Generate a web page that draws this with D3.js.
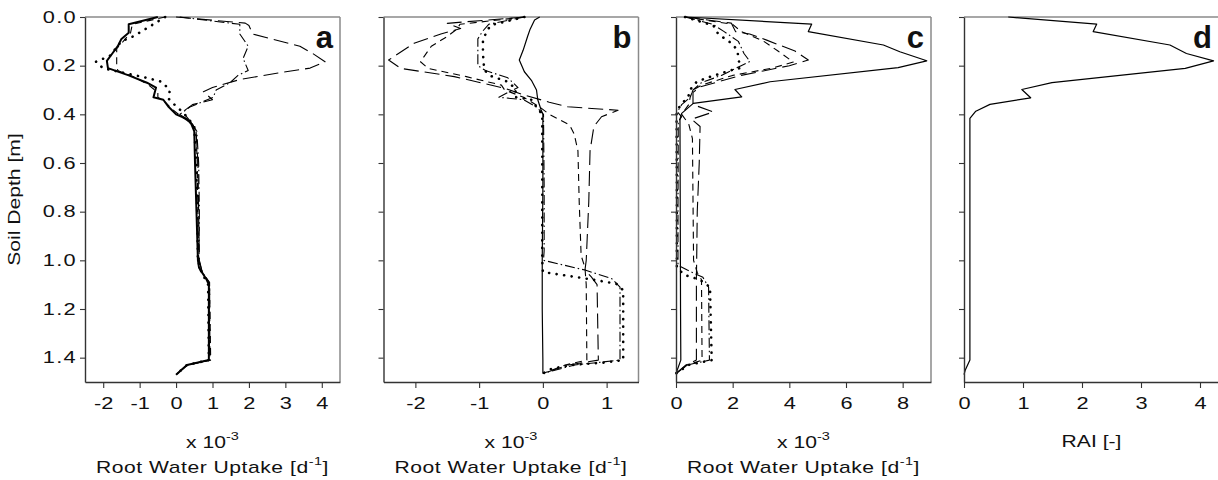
<!DOCTYPE html>
<html><head><meta charset="utf-8">
<script src="https://cdn.jsdelivr.net/npm/d3@7"></script>
<style>
body{margin:0;background:#fff;}
text{font-family:"Liberation Sans",Arial,sans-serif;fill:#111;}
</style></head>
<body><svg id="c" width="1218" height="480"></svg>
<script>
// ---------- data: [depth (m), value] ----------
const depthTicks = [0,0.2,0.4,0.6,0.8,1.0,1.2,1.4];
const xTicksA = [-2,-1,0,1,2,3,4];
const xTicksB = [-2,-1,0,1];
const xTicksC = [0,2,4,6,8];
const xTicksD = [0,1,2,3,4];
const panelLetters = ["a","b","c","d"];

const aSolid = [[0,-0.5],[0.03,-1.3],[0.065,-1.3],[0.09,-1.5],[0.12,-1.6],[0.15,-1.75],[0.18,-1.9],[0.21,-1.87],[0.24,-1.3],[0.27,-0.8],[0.29,-0.55],[0.33,-0.62],[0.34,-0.35],[0.37,-0.2],[0.40,0.0],[0.42,0.3],[0.44,0.42],[0.47,0.5],[0.6,0.52],[0.75,0.55],[0.9,0.58],[1.0,0.6],[1.03,0.63],[1.08,0.84],[1.1,0.9],[1.25,0.9],[1.41,0.9],[1.43,0.3],[1.47,0.0]];
const aDash = [[0,-0.3],[0.03,-1.2],[0.065,-1.25],[0.1,-1.45],[0.13,-1.63],[0.2,-1.63],[0.22,-1.6],[0.25,-1.1],[0.28,-0.75],[0.31,-0.5],[0.33,-0.5],[0.35,-0.3],[0.38,-0.1],[0.41,0.15],[0.44,0.45],[0.47,0.55],[0.6,0.58],[0.8,0.6],[1.0,0.62],[1.04,0.66],[1.08,0.86],[1.1,0.92],[1.41,0.95],[1.43,0.3],[1.47,0.0]];
const aDotted = [[0,-0.3],[0.047,-0.81],[0.08,-1.18],[0.1,-1.5],[0.16,-1.82],[0.184,-2.2],[0.211,-2.0],[0.226,-1.54],[0.25,-0.81],[0.266,-0.4],[0.30,-0.17],[0.335,-0.21],[0.37,0.02],[0.39,0.18],[0.42,0.35],[0.45,0.5],[0.6,0.55],[0.8,0.58],[1.0,0.6],[1.05,0.7],[1.1,0.88],[1.41,0.9],[1.43,0.3],[1.47,0]];
const aLongDash = [[0,0.0],[0.025,1.9],[0.035,2.0],[0.07,2.1],[0.12,3.4],[0.15,3.75],[0.184,4.09],[0.21,3.68],[0.23,2.8],[0.257,1.75],[0.29,1.0],[0.307,0.75],[0.34,1.0],[0.36,0.45],[0.39,0.18],[0.43,0.4],[0.47,0.55],[0.6,0.6],[0.8,0.62],[1.0,0.64],[1.05,0.72],[1.09,0.9],[1.41,0.92],[1.43,0.3],[1.47,0]];
const aDashDot = [[0,0.1],[0.03,1.75],[0.07,1.75],[0.12,1.98],[0.17,1.84],[0.22,1.98],[0.24,1.7],[0.27,1.48],[0.30,1.1],[0.33,1.02],[0.37,0.38],[0.4,0.1],[0.43,0.4],[0.47,0.57],[0.6,0.62],[0.8,0.64],[1.0,0.63],[1.05,0.72],[1.09,0.92],[1.41,0.93],[1.43,0.3],[1.47,0]];

const bSolid = [[0,-0.05],[0.012,-0.13],[0.05,-0.2],[0.08,-0.24],[0.137,-0.31],[0.177,-0.37],[0.225,-0.29],[0.26,-0.18],[0.30,-0.1],[0.34,-0.08],[0.38,-0.03],[0.40,0],[0.7,0.0],[1.0,-0.01],[1.2,-0.01],[1.41,0.0],[1.465,0.0]];
const bDotted = [[0,-0.29],[0.033,-0.81],[0.053,-0.87],[0.095,-0.94],[0.15,-0.94],[0.218,-0.92],[0.243,-0.81],[0.266,-0.55],[0.297,-0.42],[0.328,-0.45],[0.34,-0.18],[0.37,-0.1],[0.40,-0.01],[0.7,-0.01],[1.0,-0.01],[1.048,0.0],[1.06,0.3],[1.08,0.8],[1.096,1.15],[1.123,1.26],[1.41,1.26],[1.42,0.97],[1.43,0.45],[1.445,0.14],[1.465,0]];
const bDashDot = [[0,-0.29],[0.03,-0.85],[0.06,-0.95],[0.09,-1.02],[0.2,-1.02],[0.22,-0.9],[0.25,-0.55],[0.29,-0.39],[0.31,-0.55],[0.33,-0.69],[0.34,-0.3],[0.37,-0.1],[0.40,0.01],[0.7,0.02],[0.96,0.02],[1.0,0.01],[1.04,0.66],[1.075,1.08],[1.11,1.21],[1.41,1.21],[1.43,0.5],[1.465,0]];
const bLongDash = [[0,-0.29],[0.026,-1.5],[0.047,-1.29],[0.07,-1.6],[0.108,-2.02],[0.177,-2.42],[0.211,-2.23],[0.245,-1.39],[0.293,-0.6],[0.32,-0.3],[0.35,0.1],[0.369,0.39],[0.383,1.18],[0.41,0.92],[0.45,0.8],[0.55,0.74],[0.76,0.72],[1.0,0.68],[1.04,0.66],[1.068,0.76],[1.1,0.85],[1.41,0.87],[1.43,0.4],[1.465,0]];
const bDash = [[0,-0.29],[0.03,-1.3],[0.05,-1.35],[0.08,-1.5],[0.12,-1.75],[0.184,-1.92],[0.211,-1.8],[0.245,-1.2],[0.28,-0.65],[0.30,-0.6],[0.33,-0.3],[0.37,-0.05],[0.40,0.1],[0.444,0.42],[0.48,0.49],[0.55,0.55],[0.76,0.57],[0.98,0.6],[1.03,0.66],[1.1,0.68],[1.41,0.69],[1.43,0.35],[1.465,0]];

const cSolid = [[0,0.32],[0.029,4.79],[0.06,4.67],[0.115,7.32],[0.143,7.9],[0.18,8.85],[0.208,7.84],[0.266,3.32],[0.298,2.08],[0.328,2.32],[0.355,0.61],[0.396,0.2],[0.42,0.14],[0.8,0.15],[1.2,0.16],[1.41,0.17],[1.465,0]];
const cDotted = [[0,0.32],[0.035,1.32],[0.07,1.49],[0.108,1.96],[0.135,2.16],[0.21,2.26],[0.22,1.9],[0.248,1.14],[0.266,0.73],[0.30,0.49],[0.33,0.43],[0.35,0.25],[0.376,0.08],[0.40,0.02],[0.7,0.03],[1.03,0.03],[1.06,0.3],[1.08,0.85],[1.11,1.2],[1.41,1.26],[1.43,0.44],[1.465,0]];
const cDashDot = [[0,0.32],[0.03,1.3],[0.06,1.7],[0.1,2.2],[0.15,2.4],[0.183,2.61],[0.2,2.3],[0.24,1.6],[0.27,0.9],[0.30,0.6],[0.33,0.5],[0.36,0.2],[0.39,0.05],[0.41,0.2],[0.43,0.08],[0.8,0.07],[1.02,0.07],[1.04,0.4],[1.07,0.95],[1.11,1.15],[1.41,1.18],[1.43,0.4],[1.465,0]];
const cDash = [[0,0.32],[0.03,2.0],[0.06,2.3],[0.1,3.1],[0.14,3.6],[0.185,4.14],[0.21,3.4],[0.24,2.0],[0.28,0.9],[0.30,0.6],[0.33,0.5],[0.36,0.45],[0.4,0.2],[0.44,0.45],[0.5,0.58],[1.0,0.62],[1.05,0.75],[1.08,0.9],[1.41,0.92],[1.43,0.4],[1.465,0]];
const cLongDash = [[0,0.32],[0.025,1.95],[0.06,2.1],[0.07,2.6],[0.095,3.2],[0.14,4.2],[0.177,4.67],[0.2,4.0],[0.24,2.3],[0.287,0.85],[0.31,0.6],[0.36,0.6],[0.39,1.32],[0.42,0.55],[0.45,0.85],[0.6,0.82],[0.8,0.75],[1.0,0.73],[1.07,0.72],[1.41,0.72],[1.43,0.35],[1.465,0]];

const dRAI = [[0,0.75],[0.029,2.25],[0.06,2.19],[0.115,3.49],[0.15,3.77],[0.18,4.23],[0.211,3.75],[0.27,1.49],[0.298,0.98],[0.332,1.13],[0.359,0.44],[0.387,0.2],[0.417,0.1],[1.41,0.1],[1.452,0.02],[1.47,0]];

// ---------- styles ----------
const st = {
  solid:{dash:null,w:1.2,cap:"butt"},
  solidThick:{dash:null,w:2,cap:"butt"},
  dotted:{dash:"0.1 7.5",w:2.6,cap:"round"},
  dash:{dash:"7 5",w:1.1,cap:"butt"},
  longDash:{dash:"15 6",w:1.1,cap:"butt"},
  dashDot:{dash:"10 3 1.5 3",w:1.1,cap:"butt"}
};
const SX = 1.32; // wide glyphs of the original figure

const plotTop = 17, plotBottom = 382;
const panels = [
  {x0:85, x1:340, dom:[-2.5,4.5], ticks:xTicksA, yLabels:true, xlab:"ruw",
   series:[[aLongDash,st.longDash],[aDashDot,st.dashDot],[aDotted,st.dotted],[aDash,st.dash],[aSolid,st.solidThick]]},
  {x0:383.5, x1:638.5, dom:[-2.5,1.5], ticks:xTicksB, xlab:"ruw",
   series:[[bLongDash,st.longDash],[bDash,st.dash],[bDashDot,st.dashDot],[bDotted,st.dotted],[bSolid,st.solid]]},
  {x0:676, x1:931, dom:[0,9], ticks:xTicksC, xlab:"ruw",
   series:[[cLongDash,st.longDash],[cDash,st.dash],[cDashDot,st.dashDot],[cDotted,st.dotted],[cSolid,st.solid]]},
  {x0:964, x1:1219, dom:[0,4.322], ticks:xTicksD, xlab:"rai",
   series:[[dRAI,st.solid]]}
];

function widen(sel, sx){
  sel.each(function(){
    const t = d3.select(this);
    const tx = +t.attr("x")||0, ty = +t.attr("y")||0;
    t.attr("x",0).attr("y",0).attr("transform",`translate(${tx},${ty}) scale(${sx},1)`);
  });
}

const svg = d3.select("#c");
const y = d3.scaleLinear().domain([0,1.5]).range([plotTop,plotBottom]);

panels.forEach((p,i)=>{
  const x = d3.scaleLinear().domain(p.dom).range([p.x0,p.x1]);
  const g = svg.append("g");
  g.append("line").attr("x1",p.x0).attr("x2",p.x1).attr("y1",plotTop).attr("y2",plotTop).attr("stroke","#8a8a8a").attr("stroke-width",1.5);
  g.append("line").attr("x1",p.x1).attr("x2",p.x1).attr("y1",plotTop).attr("y2",plotBottom).attr("stroke","#8a8a8a").attr("stroke-width",1.5);
  const line = d3.line().x(d=>x(d[1])).y(d=>y(d[0]));
  p.series.forEach(([data,s])=>{
    g.append("path").attr("d",line(data)).attr("fill","none").attr("stroke","#000")
      .attr("stroke-width",s.w).attr("stroke-dasharray",s.dash).attr("stroke-linecap",s.cap).attr("stroke-linejoin","round");
  });
  const ax = g.append("g").attr("transform",`translate(0,${plotBottom})`)
    .call(d3.axisBottom(x).tickValues(p.ticks).tickFormat(d3.format("d")).tickSizeInner(6).tickSizeOuter(0).tickPadding(9));
  ax.selectAll("text").attr("font-size",16.5).attr("fill","#111")
    .text(d=>d<0?"-"+Math.abs(d):d);
  widen(ax.selectAll("text"), SX);
  const ay = g.append("g").attr("transform",`translate(${p.x0},0)`)
    .call(d3.axisLeft(y).tickValues(depthTicks).tickFormat(p.yLabels?d3.format(".1f"):"").tickSizeInner(5).tickSizeOuter(0).tickPadding(3));
  ay.selectAll("text").attr("font-size",16.5).attr("fill","#111").attr("letter-spacing","1px");
  widen(ay.selectAll("text"), SX);
  [ax,ay].forEach(a=>{
    a.select(".domain").attr("stroke","#333").attr("stroke-width",1.4);
    a.selectAll(".tick line").attr("stroke","#333").attr("stroke-width",1.1);
  });
  g.append("text").attr("x",p.x1-7).attr("y",48).attr("text-anchor","end")
    .attr("font-size",31).attr("font-weight","bold").text(panelLetters[i]);
  const cx = (p.x0+p.x1)/2;
  if(p.xlab==="ruw"){
    const t1 = g.append("text").attr("x",cx).attr("y",448).attr("text-anchor","middle").attr("font-size",16);
    t1.append("tspan").text("x 10");
    t1.append("tspan").attr("dy",-8).attr("font-size",11).text("-3");
    widen(t1, SX);
    const t2 = g.append("text").attr("x",cx).attr("y",473).attr("text-anchor","middle").attr("font-size",16).attr("letter-spacing","0.4px");
    t2.append("tspan").text("Root Water Uptake [d");
    t2.append("tspan").attr("dy",-8).attr("font-size",11).text("-1");
    t2.append("tspan").attr("dy",8).text("]");
    widen(t2, SX);
  } else {
    const t3 = g.append("text").attr("x",cx).attr("y",447).attr("text-anchor","middle").attr("font-size",16).text("RAI [-]");
    widen(t3, SX);
  }
});

svg.append("text").attr("transform",`translate(19.5,199.5) rotate(-90) scale(${SX},1)`).attr("text-anchor","middle")
  .attr("font-size",16).text("Soil Depth [m]");
</script></body></html>
